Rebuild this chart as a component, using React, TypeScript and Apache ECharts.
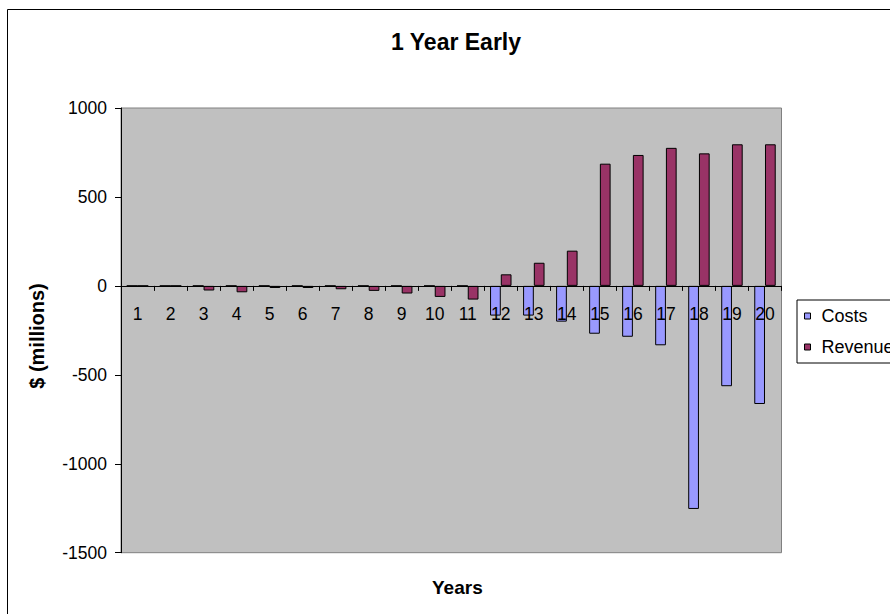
import React, { useEffect, useRef } from "react";
import * as echarts from "echarts";

const years = ["1","2","3","4","5","6","7","8","9","10","11","12","13","14","15","16","17","18","19","20"];
const costs = [0,0,0,0,0,0,0,0,0,0,0,-167,-167,-201,-269,-286,-334,-1254,-564,-664];
const revenue = [0,0,-26,-36,-12,-12,-19,-28,-43,-62,-77,65,130,198,687,736,776,745,796,796];
const yTicks = { min: -1500, max: 1000, interval: 500 };

const FONT = "'Liberation Sans', Arial, sans-serif";

const GRID_TOP = 108;
const GRID_BOTTOM_PX = 552.7;
const GRID_H = GRID_BOTTOM_PX - GRID_TOP;

export default function App() {
  const ref = useRef<HTMLDivElement>(null);
  useEffect(() => {
    if (!ref.current) return;
    const chart = echarts.init(ref.current, undefined, { renderer: "svg" });
    // distance from bottom of plot to the zero line, derived from the axis range
    const zeroFromBottom = (GRID_H * (0 - yTicks.min)) / (yTicks.max - yTicks.min);
    chart.setOption({
      animation: false,
      backgroundColor: "#ffffff",
      textStyle: { fontFamily: FONT },
      title: [
        {
          text: "1 Year Early",
          left: 386,
          top: 25,
          textStyle: { fontSize: 23, fontWeight: "bold", color: "#000", fontFamily: FONT },
        },
        {
          text: "Years",
          left: 427,
          top: 573,
          textStyle: { fontSize: 19, fontWeight: "bold", color: "#000", fontFamily: FONT },
        },
      ],
      graphic: [
        {
          type: "rect",
          shape: { x: 7.5, y: 9.5, width: 1000, height: 1000 },
          style: { fill: "none", stroke: "#000", lineWidth: 1 },
          silent: true,
          z: -10,
        },
        {
          type: "text",
          x: 37,
          y: 336,
          rotation: Math.PI / 2,
          style: {
            text: "$ (millions)",
            fontSize: 20,
            fontWeight: "bold",
            fontFamily: FONT,
            fill: "#000",
            align: "center",
            verticalAlign: "middle",
          },
        },
      ],
      legend: {
        orient: "vertical",
        left: 797,
        top: 300,
        padding: [7, 60, 7, 7],
        itemWidth: 6,
        itemHeight: 6,
        itemGap: 13,
        borderColor: "#000",
        borderWidth: 1,
        backgroundColor: "#fff",
        icon: "rect",
        itemStyle: { borderColor: "#000", borderWidth: 1 },
        textStyle: { fontSize: 18, color: "#000", fontFamily: FONT, padding: [0, 0, 0, 6] },
        data: ["Costs", "Revenue"],
      },
      grid: {
        left: 121,
        top: GRID_TOP,
        right: 108.5,
        bottom: 614 - GRID_BOTTOM_PX,
        show: true,
        backgroundColor: "#C0C0C0",
        borderColor: "#808080",
        borderWidth: 1,
      },
      xAxis: {
        type: "category",
        data: years,
        position: "bottom",
        offset: -zeroFromBottom,
        z: 3,
        axisLine: { onZero: false, lineStyle: { color: "#000", width: 1 } },
        axisTick: { show: true, alignWithLabel: false, length: 5, lineStyle: { color: "#000" } },
        axisLabel: { fontSize: 17.5, color: "#000", margin: 19, fontFamily: FONT, interval: 0 },
        splitLine: { show: false },
      },
      yAxis: {
        type: "value",
        min: yTicks.min,
        max: yTicks.max,
        interval: yTicks.interval,
        axisLine: { show: true, lineStyle: { color: "#000", width: 1 } },
        axisTick: { show: true, length: 6, lineStyle: { color: "#000" } },
        axisLabel: {
          fontSize: 17.5,
          color: "#000",
          margin: 14,
          fontFamily: FONT,
          formatter: (v: number) => String(v),
        },
        splitLine: { show: false },
      },
      series: [
        {
          name: "Costs",
          type: "bar",
          data: costs,
          barGap: "0%",
          barCategoryGap: "35%",
          itemStyle: { color: "#9999FF", borderColor: "#000", borderWidth: 1 },
        },
        {
          name: "Revenue",
          type: "bar",
          data: revenue,
          barGap: "0%",
          barCategoryGap: "35%",
          itemStyle: { color: "#993366", borderColor: "#000", borderWidth: 1 },
        },
      ],
    });
    return () => chart.dispose();
  }, []);
  return (
    <div
      ref={ref}
      style={{ position: "absolute", left: 0, top: 0, width: 890, height: 614 }}
    />
  );
}
